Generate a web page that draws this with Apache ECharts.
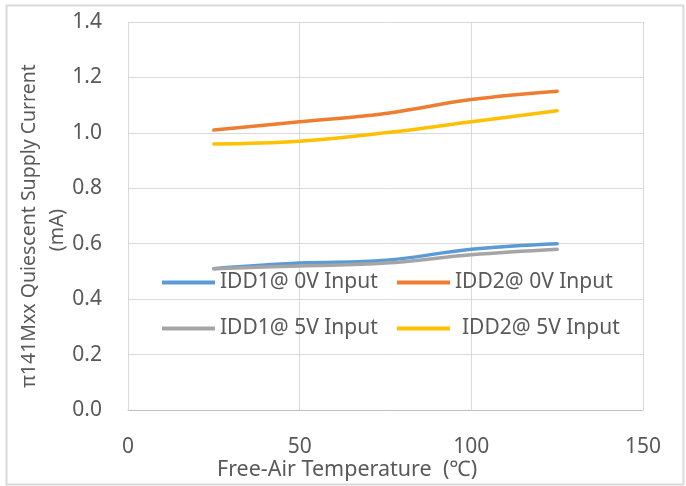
<!DOCTYPE html>
<html>
<head>
<meta charset="utf-8">
<script src="https://cdn.jsdelivr.net/npm/echarts@6/dist/echarts.min.js"></script>
<style>
html,body{margin:0;padding:0;background:#fff;}
#chart{width:686px;height:486px;}
</style>
</head>
<body>
<div id="chart"></div>
<script>
// Data
const temperatures = [25, 50, 75, 100, 125];
const idd1At0V = [0.51, 0.53, 0.54, 0.58, 0.60];
const idd2At0V = [1.01, 1.04, 1.07, 1.12, 1.15];
const idd1At5V = [0.51, 0.52, 0.53, 0.56, 0.58];
const idd2At5V = [0.96, 0.97, 1.00, 1.04, 1.08];
const seriesNames = ['IDD1@ 0V Input', 'IDD2@ 0V Input', 'IDD1@ 5V Input', 'IDD2@ 5V Input'];
const seriesValues = [idd1At0V, idd2At0V, idd1At5V, idd2At5V];
const seriesColors = ['#5B9BD5', '#ED7D31', '#A5A5A5', '#FFC000'];
const xAxisTitle = 'Free-Air Temperature  (\u2103)';
const yAxisTitleLine1 = '\u03c0141Mxx Quiescent Supply Current';
const yAxisTitleLine2 = '(mA)';

const FONT = 'Noto Sans';
const TEXT = '#595959';
const GRIDC = '#D9D9D9';

const chart = echarts.init(document.getElementById('chart'), null, {renderer: 'canvas'});

const legendPos = [
  {left: 162, top: 272},
  {left: 397, top: 272},
  {left: 162, top: 318},
  {left: 397, top: 318}
];

const option = {
  backgroundColor: '#fff',
  animation: false,
  textStyle: {fontFamily: FONT},
  grid: {left: 128, right: 43, top: 22, bottom: 76, containLabel: false, outerBoundsMode: 'none'},
  graphic: [
    {type: 'rect', left: 4, top: 3, shape: {x: 0, y: 0, width: 677, height: 479}, style: {fill: 'none', stroke: '#D9D9D9', lineWidth: 2}, silent: true, z: -1},
    {type: 'text', left: 217, top: 459, style: {text: xAxisTitle, fontFamily: FONT, fontSize: 21.5, fill: TEXT}},
    {type: 'text', x: 29, y: 226, rotation: Math.PI / 2,
     style: {text: yAxisTitleLine1, x: 0, y: 0, align: 'center', verticalAlign: 'middle', fontFamily: FONT, fontSize: 19.5, fill: TEXT}},
    {type: 'text', x: 57, y: 230, rotation: Math.PI / 2,
     style: {text: yAxisTitleLine2, x: 0, y: 0, align: 'center', verticalAlign: 'middle', fontFamily: FONT, fontSize: 19.5, fill: TEXT}}
  ],
  legend: seriesNames.map((n, i) => ({
    data: [n],
    left: legendPos[i].left,
    top: legendPos[i].top,
    padding: 0,
    icon: 'rect',
    itemWidth: 53,
    itemHeight: 4,
    itemGap: 0,
    textStyle: {fontFamily: FONT, fontSize: 21, color: TEXT, padding: [0, 0, 0, i === 3 ? 7 : 0]}
  })),
  xAxis: {
    type: 'value',
    min: 0, max: 150, interval: 50,
    axisLine: {show: true, lineStyle: {color: '#BFBFBF', width: 1}},
    axisTick: {show: false},
    splitLine: {show: true, lineStyle: {color: GRIDC, width: 1}},
    axisLabel: {fontFamily: FONT, fontSize: 21, color: TEXT, margin: 27}
  },
  yAxis: {
    type: 'value',
    min: 0, max: 1.4, interval: 0.2,
    axisLine: {show: false},
    axisTick: {show: false},
    splitLine: {show: true, lineStyle: {color: GRIDC, width: 1}},
    axisLabel: {fontFamily: FONT, fontSize: 21, color: TEXT, margin: 26, formatter: v => v.toFixed(1)}
  },
  series: seriesNames.map((n, i) => ({
    name: n,
    type: 'line',
    data: temperatures.map((t, k) => [t, seriesValues[i][k]]),
    smooth: 0.4,
    showSymbol: false,
    symbol: 'none',
    lineStyle: {color: seriesColors[i], width: 3.5, cap: 'round'},
    itemStyle: {color: seriesColors[i]}
  }))
};
chart.setOption(option);
</script>
</body>
</html>
